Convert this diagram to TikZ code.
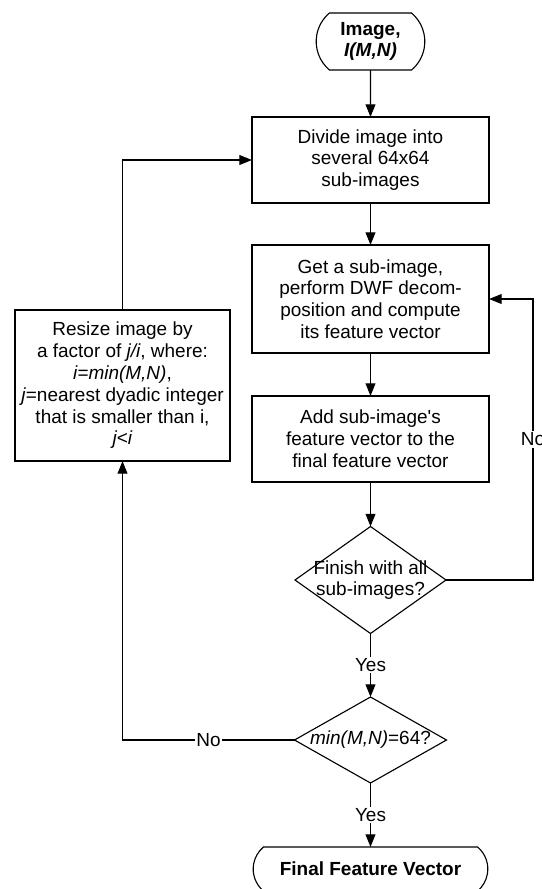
\documentclass[tikz,border=0pt]{standalone}
\usepackage{fontspec}
\setmainfont{Liberation Sans}
\usepackage{tikz}
\usetikzlibrary{arrows.meta, positioning, shapes.geometric, shapes.misc}

\begin{document}
\begin{tikzpicture}[
    every node/.style={font=\fontsize{13.5}{15.5}\selectfont},
    process/.style={draw, line width=0.8pt, align=center, minimum width=5.925cm, outer sep=0pt},
    terminal/.style={draw, line width=0.8pt, rounded rectangle, rounded rectangle arc length=100, align=center, outer sep=0pt},
    decision/.style={draw, line width=0.8pt, diamond, inner sep=0pt, outer sep=0pt},
    flow/.style={line width=0.8pt, -{Triangle[length=9pt, width=7pt]}},
    branch/.style={fill=white, inner sep=1pt}
]
\useasboundingbox (0,0) rectangle (13.55,-22.225);
\pgfmathsetmacro{\colx}{9.2625}
\pgfmathsetmacro{\loopx}{2.175}

% Start
\node[terminal, minimum width=2.95cm, minimum height=1.425cm] (start) at (\colx, -1.0375) {\textbf{Image,}\\\textbf{\textit{I(M,N)}}};

% Main column
\node[process, minimum height=2.15cm] (divide) at (\colx, -4.0) {Divide image into\\several 64x64\\sub-images};
\node[process, minimum height=2.7cm] (getsub) at (\colx, -7.475) {Get a sub-image,\\perform DWF decom-\\position and compute\\its feature vector};
\node[process, minimum height=2.15cm] (addvec) at (\colx, -10.975) {Add sub-image\textquotesingle s\\feature vector to the\\final feature vector};

% Decisions
\node[decision, minimum width=3.775cm, minimum height=2.675cm] (finish) at (\colx, -14.5) {};
\node[align=center] at (finish.center) {Finish with all\\sub-images?};
\node[decision, minimum width=3.8cm, minimum height=2.15cm] (minchk) at (\colx, -18.5) {};
\node at (minchk.center) {\textit{min(M,N)}=64?};

% End
\node[terminal, minimum width=6.1cm, minimum height=1.1cm] (final) at (\colx, -21.725) {\textbf{Final Feature Vector}};

% Resize
\node[process, minimum width=5.375cm, minimum height=3.775cm] (resize) at (3.0625, -9.6375) {Resize image by\\a factor of \textit{j/i}, where:\\\textit{i=min(M,N)},\\\textit{j}=nearest dyadic integer\\that is smaller than i,\\\textit{j<i}};

% Connectors
\draw[flow] (start) -- (divide);
\draw[flow] (divide) -- (getsub);
\draw[flow] (getsub) -- (addvec);
\draw[flow] (addvec) -- (finish);
\draw[flow] (finish.east) -- ++(\loopx,0) |- node[branch, pos=0.25] {No} (getsub.east);
\draw[flow] (finish.south) -- node[branch] {Yes} (minchk.north);
\draw[flow] (minchk.west) -- node[branch] {No} (resize.south |- minchk.west) -- (resize.south);
\draw[flow] (minchk.south) -- node[branch] {Yes} (final.north);
\draw[flow] (resize.north) |- (divide.west);
\end{tikzpicture}
\end{document}
